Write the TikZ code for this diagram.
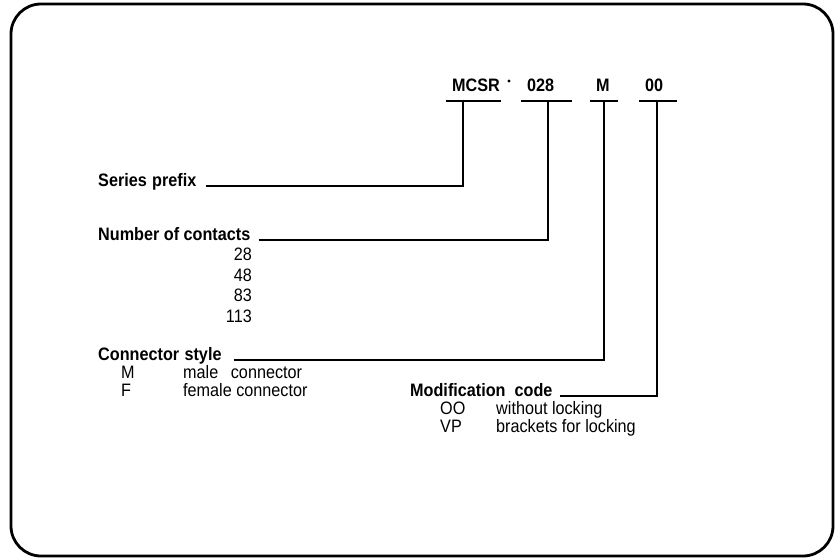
\documentclass[tikz,border=0pt]{standalone}
\usepackage{fontspec}
\setmainfont[FakeStretch=0.9]{Liberation Sans}
\begin{document}
\begin{tikzpicture}[x=1pt,y=-1pt,
  lbl/.style={font=\fontsize{18}{21}\selectfont\bfseries,inner sep=0,anchor=base west},
  txt/.style={font=\fontsize{18}{21}\selectfont,inner sep=0,anchor=base west},
  num/.style={font=\fontsize{18}{21}\selectfont,inner sep=0,anchor=base east},
  code/.style={font=\fontsize{18}{21}\selectfont\bfseries,inner sep=0,anchor=base west},
  lead/.style={line width=1.4pt},
  frame/.style={line width=2.8pt,rounded corners=30pt}]
\useasboundingbox (0,0) rectangle (840,559);
\draw[frame] (11,4) rectangle (833,556);
% code
\node[code] (mcsr) at (452,92) {MCSR};
\node[circle,fill,inner sep=0,minimum size=3.2pt] (dot) at (509,81) {};
\node[code] (c028) at (527,92) {028};
\node[code] (cm) at (596,92) {M};
\node[code] (c00) at (645,92) {00};
% underlines
\coordinate (u1a) at (446,101); \coordinate (u1b) at (501,101);
\coordinate (u2a) at (521,101); \coordinate (u2b) at (572,101);
\coordinate (u3a) at (590,101); \coordinate (u3b) at (618,101);
\coordinate (u4a) at (639,101); \coordinate (u4b) at (677,101);
\draw[lead] (u1a) -- (u1b);
\draw[lead] (u2a) -- (u2b);
\draw[lead] (u3a) -- (u3b);
\draw[lead] (u4a) -- (u4b);
\coordinate (t1) at (463,101);
\coordinate (t2) at (548,101);
\coordinate (t3) at (604,101);
\coordinate (t4) at (657,101);
% labels
\node[lbl] (series) at (98,186) {Series\hspace{0.3em}prefix};
\node[lbl] (number) at (98,240) {Number of contacts};
\node[num] (n28) at (252,260) {28};
\node[num] (n48) at (252,281) {48};
\node[num] (n83) at (252,301) {83};
\node[num] (n113) at (252,322) {113};
\node[lbl] (connector) at (98,360) {Connector\hspace{0.3em}style};
\node[txt] (cM) at (121,378) {M};
\node[txt] (cMt) at (183,378) {male\hspace{0.7em}connector};
\node[txt] (cF) at (121,396) {F};
\node[txt] (cFt) at (183,396) {female connector};
\node[lbl] (modif) at (410,396) {Modification\hspace{0.5em}code};
\node[txt] (mOO) at (440,414) {OO};
\node[txt] (mOOt) at (496,414) {without locking};
\node[txt] (mVP) at (440,432) {VP};
\node[txt] (mVPt) at (496,432) {brackets for locking};
% leaders
\draw[lead] ([xshift=9pt]series.base east) -| (t1);
\draw[lead] ([xshift=8pt]number.base east) -| (t2);
\draw[lead] ([xshift=12pt]connector.base east) -| (t3);
\draw[lead] ([xshift=7pt]modif.base east) -| (t4);
\end{tikzpicture}
\end{document}
